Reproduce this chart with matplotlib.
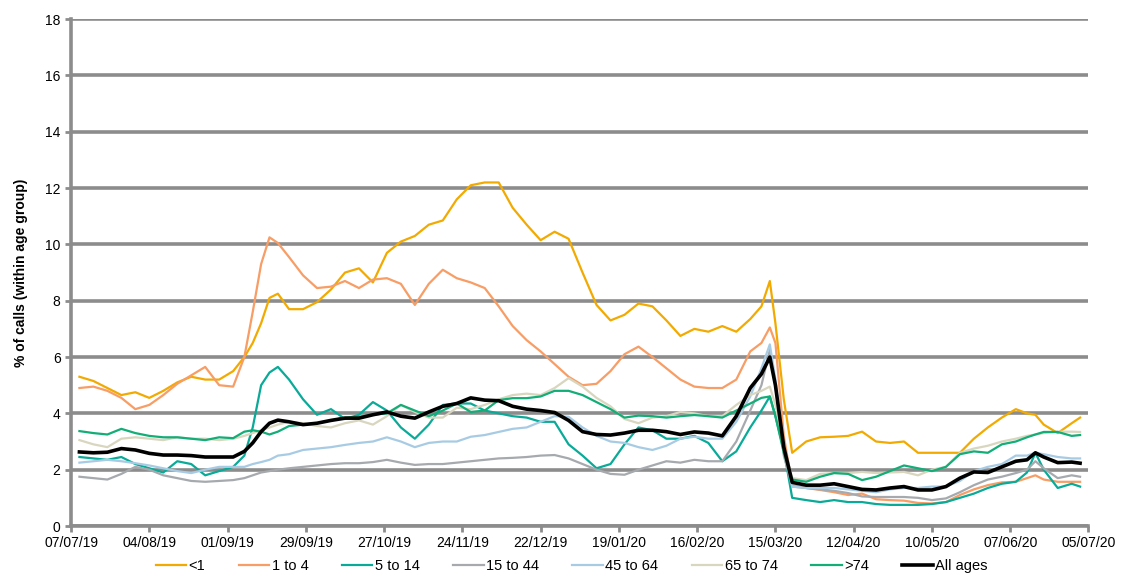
import numpy as np
import pandas as pd
import matplotlib
matplotlib.use("Agg")
import matplotlib.pyplot as plt
import matplotlib.dates as mdates

plt.rcParams['font.family'] = ['Liberation Sans', 'DejaVu Sans']

# dias desde el 07/07/19
start = pd.Timestamp("2019-07-07")
days = [3, 8, 13, 18, 23, 28, 33, 38, 43, 48, 53, 58, 62, 65, 68, 71, 74, 78, 83, 88,
        93, 98, 103, 108, 113, 118, 123, 128, 133, 138, 143, 148, 153, 158, 163, 168, 173, 178, 183, 188,
        193, 198, 203, 208, 213, 218, 223, 228, 233, 238, 243, 247, 250, 252, 255, 258, 263, 268, 273, 278,
        283, 288, 293, 298, 303, 308, 313, 318, 323, 328, 333, 338, 342, 345, 348, 353, 358, 361]

under_1 = [5.3, 5.15, 4.9, 4.65, 4.75, 4.55, 4.8, 5.1, 5.3, 5.2, 5.2, 5.5, 6.0, 6.5, 7.2, 8.1, 8.25, 7.7, 7.7, 7.95,
           8.4, 9.0, 9.15, 8.65, 9.7, 10.1, 10.3, 10.7, 10.85, 11.6, 12.1, 12.2, 12.2, 11.3, 10.7, 10.15, 10.45, 10.2, 9.0, 7.85,
           7.3, 7.5, 7.9, 7.8, 7.3, 6.75, 7.0, 6.9, 7.1, 6.9, 7.35, 7.8, 8.7, 7.2, 4.5, 2.6, 3.0, 3.15, 3.17, 3.2,
           3.35, 3.0, 2.95, 3.0, 2.6, 2.6, 2.6, 2.6, 3.1, 3.5, 3.85, 4.15, 4.0, 3.95, 3.6, 3.3, 3.65, 3.85]
age_1_4 = [4.9, 4.95, 4.8, 4.55, 4.15, 4.3, 4.65, 5.05, 5.35, 5.65, 5.0, 4.95, 6.0, 7.6, 9.3, 10.25, 10.05, 9.55, 8.9, 8.45,
           8.5, 8.7, 8.45, 8.75, 8.8, 8.6, 7.85, 8.6, 9.1, 8.8, 8.65, 8.45, 7.8, 7.1, 6.6, 6.2, 5.75, 5.3, 5.0, 5.05,
           5.5, 6.1, 6.37, 6.0, 5.6, 5.2, 4.95, 4.9, 4.9, 5.2, 6.2, 6.5, 7.05, 6.5, 3.2, 1.45, 1.35, 1.28, 1.2, 1.1,
           1.15, 0.95, 0.92, 0.9, 0.82, 0.8, 0.85, 1.1, 1.3, 1.45, 1.55, 1.57, 1.7, 1.8, 1.65, 1.57, 1.57, 1.57]
age_5_14 = [2.45, 2.4, 2.35, 2.45, 2.2, 2.05, 1.9, 2.3, 2.2, 1.8, 1.95, 2.1, 2.5, 3.5, 5.0, 5.45, 5.65, 5.2, 4.5, 3.95,
            4.15, 3.8, 3.95, 4.4, 4.1, 3.5, 3.1, 3.6, 4.3, 4.35, 4.35, 4.1, 4.0, 3.9, 3.85, 3.7, 3.7, 2.9, 2.5, 2.05,
            2.2, 2.9, 3.5, 3.4, 3.1, 3.1, 3.2, 2.95, 2.3, 2.65, 3.5, 4.1, 4.6, 3.9, 2.7, 1.0, 0.92, 0.85, 0.92, 0.85,
            0.85, 0.78, 0.75, 0.75, 0.75, 0.78, 0.85, 1.0, 1.15, 1.35, 1.5, 1.57, 1.9, 2.6, 2.0, 1.35, 1.5, 1.4]
age_15_44 = [1.75, 1.7, 1.65, 1.85, 2.1, 2.0, 1.8, 1.7, 1.6, 1.57, 1.6, 1.63, 1.7, 1.8, 1.9, 1.95, 2.0, 2.05, 2.1, 2.15,
             2.2, 2.23, 2.23, 2.27, 2.35, 2.25, 2.17, 2.2, 2.2, 2.25, 2.3, 2.35, 2.4, 2.42, 2.45, 2.5, 2.52, 2.4, 2.2, 2.0,
             1.85, 1.82, 2.0, 2.15, 2.3, 2.25, 2.35, 2.3, 2.3, 3.0, 4.1, 5.0, 6.25, 5.0, 2.5, 1.4, 1.35, 1.3, 1.25, 1.17,
             1.05, 1.03, 1.03, 1.03, 1.0, 0.92, 0.98, 1.2, 1.45, 1.65, 1.75, 1.88, 2.0, 2.3, 2.05, 1.7, 1.8, 1.75]
age_45_64 = [2.25, 2.3, 2.35, 2.3, 2.23, 2.15, 2.05, 1.95, 1.88, 2.0, 2.1, 2.1, 2.1, 2.2, 2.27, 2.35, 2.5, 2.55, 2.7, 2.75,
             2.8, 2.88, 2.95, 3.0, 3.15, 3.0, 2.8, 2.95, 3.0, 3.0, 3.17, 3.23, 3.34, 3.45, 3.5, 3.7, 3.9, 3.88, 3.5, 3.2,
             3.0, 2.95, 2.8, 2.7, 2.85, 3.1, 3.17, 3.1, 3.1, 3.7, 4.6, 5.6, 6.45, 5.2, 2.8, 1.4, 1.35, 1.35, 1.35, 1.3,
             1.25, 1.2, 1.3, 1.35, 1.35, 1.4, 1.4, 1.6, 1.95, 2.1, 2.2, 2.5, 2.5, 2.6, 2.55, 2.45, 2.4, 2.4]
age_65_74 = [3.05, 2.9, 2.8, 3.1, 3.15, 3.1, 3.05, 3.15, 3.1, 3.1, 3.05, 3.1, 3.2, 3.3, 3.4, 3.5, 3.6, 3.7, 3.65, 3.55,
             3.5, 3.65, 3.75, 3.6, 3.9, 4.3, 4.05, 3.85, 3.85, 4.2, 4.15, 4.3, 4.5, 4.65, 4.7, 4.65, 4.9, 5.25, 4.95, 4.55,
             4.25, 3.8, 3.65, 3.85, 3.9, 4.05, 4.0, 3.9, 3.9, 4.3, 4.65, 4.8, 4.95, 4.3, 2.8, 1.7, 1.63, 1.85, 1.88, 1.88,
             1.92, 1.88, 1.9, 1.92, 1.8, 2.0, 2.1, 2.6, 2.75, 2.85, 3.0, 3.1, 3.2, 3.25, 3.3, 3.35, 3.35, 3.34]
over_74 = [3.37, 3.3, 3.25, 3.45, 3.3, 3.2, 3.15, 3.15, 3.1, 3.05, 3.15, 3.12, 3.35, 3.4, 3.35, 3.25, 3.35, 3.55, 3.6, 3.65,
           3.75, 3.85, 3.88, 3.95, 4.0, 4.3, 4.1, 3.9, 4.1, 4.35, 4.05, 4.1, 4.47, 4.54, 4.54, 4.6, 4.8, 4.8, 4.65, 4.4,
           4.15, 3.85, 3.92, 3.9, 3.85, 3.9, 3.94, 3.9, 3.85, 4.1, 4.35, 4.55, 4.6, 3.9, 2.6, 1.65, 1.57, 1.75, 1.88, 1.85,
           1.63, 1.75, 1.95, 2.15, 2.05, 1.95, 2.1, 2.55, 2.65, 2.6, 2.9, 3.0, 3.15, 3.25, 3.34, 3.34, 3.2, 3.23]
all_ages = [2.63, 2.6, 2.62, 2.75, 2.7, 2.58, 2.52, 2.52, 2.5, 2.45, 2.45, 2.45, 2.65, 2.95, 3.35, 3.65, 3.76, 3.7, 3.6, 3.65,
            3.75, 3.83, 3.83, 3.95, 4.05, 3.9, 3.83, 4.05, 4.25, 4.35, 4.55, 4.47, 4.45, 4.25, 4.15, 4.1, 4.03, 3.75, 3.35, 3.25,
            3.23, 3.3, 3.4, 3.4, 3.35, 3.25, 3.34, 3.3, 3.2, 3.9, 4.9, 5.4, 6.0, 5.0, 2.8, 1.55, 1.45, 1.45, 1.5, 1.4,
            1.3, 1.28, 1.35, 1.4, 1.28, 1.28, 1.4, 1.7, 1.92, 1.9, 2.1, 2.3, 2.35, 2.6, 2.45, 2.25, 2.27, 2.23]

series = [
    ("<1", under_1, "#F2AA00", 1.6),
    ("1 to 4", age_1_4, "#F79D65", 1.6),
    ("5 to 14", age_5_14, "#0AAA98", 1.6),
    ("15 to 44", age_15_44, "#A6AAAE", 1.6),
    ("45 to 64", age_45_64, "#A8CBE4", 1.6),
    ("65 to 74", age_65_74, "#D8D6BE", 1.6),
    (">74", over_74, "#13AD78", 1.6),
    ("All ages", all_ages, "#000000", 2.6),
]

dates = start + pd.to_timedelta(days, unit="D")

fig = plt.figure(figsize=(11.33, 5.76), dpi=100)
ax = fig.add_axes([0.0627, 0.0868, 0.898, 0.880])

for name, vals, col, lw in series:
    ax.plot(dates, vals, color=col, lw=lw, label=name)

ax.set_ylim(0, 18)
ax.set_yticks(range(0, 19, 2))
ax.set_xlim(start, pd.Timestamp("2020-07-05"))
ticks = pd.date_range(start, "2020-07-05", freq="28D")
ax.set_xticks(ticks)
ax.xaxis.set_major_formatter(mdates.DateFormatter("%d/%m/%y"))

ax.grid(axis="y", color="#8C8C8C", lw=2.6)
ax.set_axisbelow(True)
for s in ["top", "right"]:
    ax.spines[s].set_visible(False)
for s in ["left", "bottom"]:
    ax.spines[s].set_color("#8C8C8C")
    ax.spines[s].set_linewidth(2.6)
ax.tick_params(colors="#8C8C8C", width=2, length=4, labelcolor="black", labelsize=10)
ax.set_ylabel("% of calls (within age group)", fontsize=10, fontweight="bold", labelpad=12)

ax.legend(loc="upper center", bbox_to_anchor=(0.492, -0.04), ncol=8, frameon=False,
          fontsize=10.5, handlelength=2.1, columnspacing=2.3, handletextpad=0.15)

fig.savefig("out.png", dpi=100)
